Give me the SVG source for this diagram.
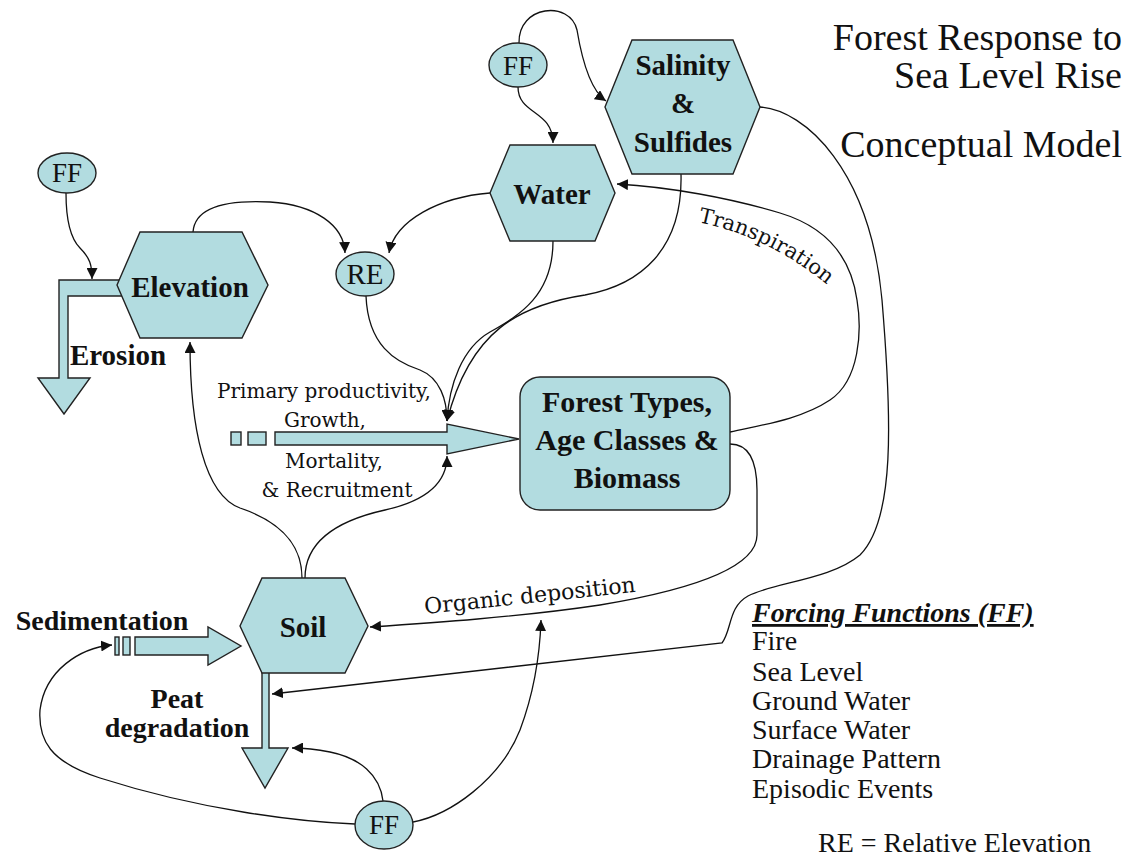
<svg xmlns="http://www.w3.org/2000/svg" width="1131" height="857" viewBox="0 0 1131 857">
<defs>
<marker id="ah" viewBox="0 0 10 10" refX="10" refY="5" markerWidth="11" markerHeight="11" markerUnits="userSpaceOnUse" orient="auto">
<path d="M0,0 L10,5 L0,10 z" fill="#111"/>
</marker>
<style>
.shape{fill:#b2dce0;stroke:#222;stroke-width:1.4}
.lbl{font-family:"Liberation Serif","Times New Roman",serif;font-weight:bold;fill:#111;text-anchor:middle}
.ff{font-family:"Liberation Serif","Times New Roman",serif;fill:#111;text-anchor:middle}
.con{fill:none;stroke:#111;stroke-width:1.3}
.arr{marker-end:url(#ah)}
.sm{font-family:"DejaVu Serif",serif;fill:#111}
.title{font-family:"Liberation Serif","Times New Roman",serif;font-size:38px;fill:#111;text-anchor:end}
.leg{font-family:"Liberation Serif","Times New Roman",serif;font-size:28px;fill:#111}
</style>
</defs>
<rect width="1131" height="857" fill="#fff"/>

<g id="connectors">
<path class="con arr" d="M66,193 C66,225 72,240 80,248 C90,258 92,265 92,279"/>
<path class="con arr" d="M193,232 C195,205 230,200 270,202 C315,205 344,225 345,253"/>
<path class="con arr" d="M490,193 C440,197 395,220 389,253"/>
<path class="con arr" d="M518,87 C518,115 553,110 553,143"/>
<path class="con arr" d="M519,43 C518,5 570,0 577,30 C582,60 590,90 606,101"/>
<path class="con arr" d="M366,296 C368,345 395,362 420,370 C440,378 447,400 447,421"/>
<path class="con arr" d="M553,241 C553,295 520,315 490,332 C462,348 449,385 447,421"/>
<path class="con arr" d="M681,174 C683,250 640,285 585,295 C520,305 470,330 447,421"/>
<path class="con arr" d="M302,578 C302,540 275,520 240,508 C205,495 190,430 190,342"/>
<path class="con arr" d="M305,578 C305,540 340,520 385,510 C430,500 447,480 447,456"/>
<path class="con arr" d="M730,432 C760,425 800,420 830,400 C860,380 862,330 857,300 C850,250 820,225 780,213 C730,198 670,187 617,184"/>
<path class="con arr" d="M730,444 C748,444 757,460 757,490 L757,535 C757,560 720,585 600,605 C520,617 430,623 370,627"/>
<path class="con arr" d="M760,107 C805,110 870,170 882,300 C892,420 895,520 860,555 C830,580 775,582 748,596 C728,607 732,630 722,643 L272,694"/>
<path class="con arr" d="M383,801 C380,775 360,758 330,752 C315,749 305,748 292,748"/>
<path class="con arr" d="M413,822 C450,815 500,780 520,730 C535,690 540,650 541,620"/>
<path class="con arr" d="M355,824 C300,822 200,810 100,778 C50,762 38,740 40,710 C45,670 80,648 112,645"/>
</g>

<g id="erosion-flow">
<polygon class="shape" points="125,280 59,280 59,378 38,378 64,414 90,378 68,378 68,296 125,296"/>
<text class="lbl" x="118" y="365" font-size="29">Erosion</text>
</g>

<g id="elevation">
<polygon class="shape" points="140,232 242,232 268,285 242,338 140,338 117,285"/>
<text class="lbl" x="190" y="297" font-size="29">Elevation</text>
</g>

<g id="ff-elevation">
<ellipse class="shape" cx="67" cy="173" rx="29" ry="20"/>
<text class="ff" x="67" y="182" font-size="27">FF</text>
</g>

<g id="re">
<ellipse class="shape" cx="365" cy="274" rx="29" ry="22"/>
<text class="ff" x="365" y="284" font-size="29">RE</text>
</g>

<g id="water">
<polygon class="shape" points="510,145 595,145 615,193 595,241 510,241 490,193"/>
<text class="lbl" x="552" y="204" font-size="29">Water</text>
</g>

<g id="ff-water">
<ellipse class="shape" cx="518" cy="65" rx="29" ry="22"/>
<text class="ff" x="518" y="75" font-size="27">FF</text>
</g>

<g id="salinity">
<polygon class="shape" points="632,40 733,40 760,107 733,174 632,174 605,107"/>
<text class="lbl" x="683" y="75" font-size="29">Salinity</text>
<text class="lbl" x="683" y="113" font-size="29">&amp;</text>
<text class="lbl" x="683" y="152" font-size="29">Sulfides</text>
</g>

<g id="productivity-flow">
<rect class="shape" x="231" y="432" width="10" height="13"/>
<rect class="shape" x="248" y="432" width="18" height="13"/>
<polygon class="shape" points="275,432 447,432 447,424 519,439 447,454 447,445 275,445"/>
<text class="sm" x="324" y="398" font-size="20" text-anchor="middle">Primary productivity,</text>
<text class="sm" x="325" y="427" font-size="20" text-anchor="middle">Growth,</text>
<text class="sm" x="334" y="468" font-size="20" text-anchor="middle">Mortality,</text>
<text class="sm" x="337" y="497" font-size="20" text-anchor="middle">&amp; Recruitment</text>
</g>

<g id="forest">
<rect class="shape" x="520" y="377" width="210" height="133" rx="20" ry="20"/>
<text class="lbl" x="627" y="412" font-size="30">Forest Types,</text>
<text class="lbl" x="627" y="450" font-size="30">Age Classes &amp;</text>
<text class="lbl" x="627" y="488" font-size="30">Biomass</text>
</g>

<g id="sedimentation-flow">
<rect class="shape" x="115" y="637" width="4" height="18"/>
<rect class="shape" x="123" y="637" width="7" height="18"/>
<polygon class="shape" points="135,637 208,637 208,627 241,646 208,665 208,655 135,655"/>
<text class="lbl" x="102" y="630" font-size="28">Sedimentation</text>
</g>

<g id="peat-flow">
<polygon class="shape" points="262,670 269,670 269,748 288,748 265,788 242,748 262,748"/>
<text class="lbl" x="177" y="708" font-size="28">Peat</text>
<text class="lbl" x="177" y="737" font-size="28">degradation</text>
</g>

<g id="soil">
<polygon class="shape" points="262,578 345,578 368,626 345,673 262,673 240,626"/>
<text class="lbl" x="303" y="637" font-size="29">Soil</text>
</g>

<g id="ff-soil">
<ellipse class="shape" cx="384" cy="825" rx="29" ry="24"/>
<text class="ff" x="384" y="834" font-size="27">FF</text>
</g>

<g id="labels">
<text class="sm" font-size="22" transform="rotate(-6 425 614)" x="425" y="614">Organic deposition</text>
<path id="tp" d="M698,222 Q775,238 838,294" fill="none"/>
<text class="sm" font-size="21"><textPath href="#tp">Transpiration</textPath></text>
</g>

<g id="title">
<text class="title" x="1122" y="50">Forest Response to</text>
<text class="title" x="1122" y="88">Sea Level Rise</text>
<text class="title" x="1122" y="157">Conceptual Model</text>
</g>

<g id="legend">
<text class="leg" x="752" y="622" font-weight="bold" font-style="italic" text-decoration="underline">Forcing Functions (FF)</text>
<text class="leg" x="752" y="650">Fire</text>
<text class="leg" x="752" y="681">Sea Level</text>
<text class="leg" x="752" y="710">Ground Water</text>
<text class="leg" x="752" y="739">Surface Water</text>
<text class="leg" x="752" y="768">Drainage Pattern</text>
<text class="leg" x="752" y="798">Episodic Events</text>
<text class="leg" x="818" y="852">RE = Relative Elevation</text>
</g>
</svg>
